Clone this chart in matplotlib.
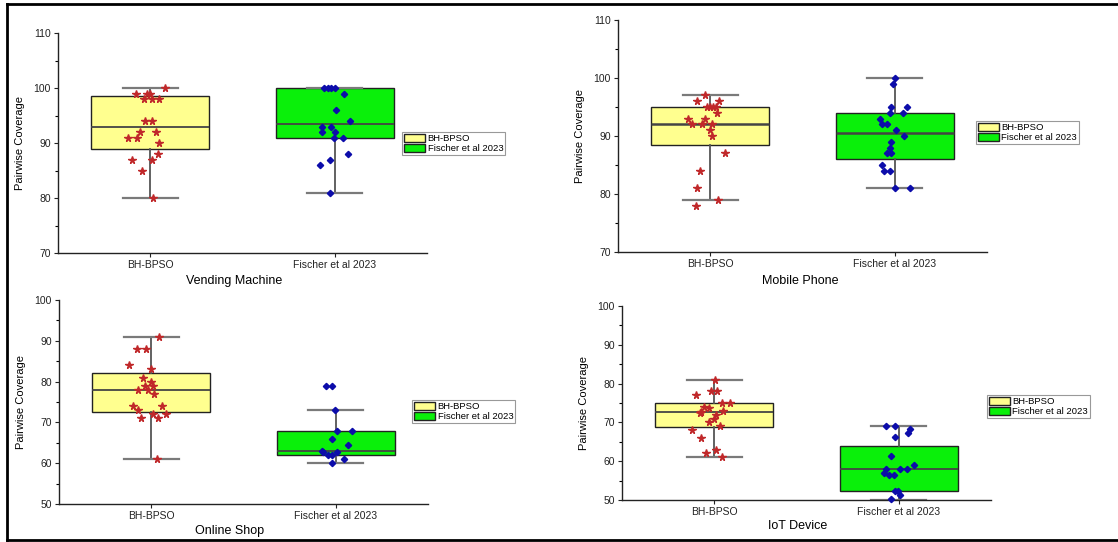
import matplotlib
matplotlib.use('Agg')
from matplotlib import pyplot as plt
from matplotlib.patches import Patch
from matplotlib.lines import Line2D
from matplotlib.ticker import MultipleLocator

plt.rcParams['font.family'] = ['Liberation Sans', 'DejaVu Sans']

groups = ['BH-BPSO', 'Fischer et al 2023']
titles = ['Vending Machine', 'Mobile Phone', 'Online Shop', 'IoT Device']

# pairwise coverage per run
vm_bh = [100, 99, 99, 99, 98, 98, 98, 94, 94, 92, 92, 91, 91, 90, 88, 87, 87, 85, 80]
vm_fi = [100, 100, 100, 100, 99, 96, 94, 93, 93, 92, 92, 91, 91, 88, 87, 86, 81]
mp_bh = [97, 96, 96, 95, 95, 95, 95, 94, 93, 93, 92, 92, 92, 91, 90, 87, 84, 81, 79, 78]
mp_fi = [100, 99, 95, 95, 94, 94, 93, 92, 92, 91, 90, 89, 88, 87, 87, 85, 84, 84, 81, 81]
os_bh = [91, 88, 88, 84, 83, 81, 80, 79, 79, 78, 78, 77, 74, 74, 73, 72, 72, 71, 71, 61]
os_fi = [79, 79, 73, 68, 68, 66, 64.4, 63, 62.7, 62.7, 62, 62, 61, 60]
iot_bh = [81, 78, 78, 77, 75, 75, 74, 73.6, 73, 72.8, 72.5, 72, 71, 70, 69, 68, 66, 63, 62, 61]
iot_fi = [69.2, 69.2, 68.2, 67.3, 66.3, 61.3, 59, 58, 58, 58, 57, 56.5, 56.5, 52.3, 52.3, 51.2, 50.2]

# horizontal jitter of the points (category units)
vm_bh_jit = [0.08, -0.076, -0.018, 0.0, -0.033, 0.009, 0.045, -0.027, 0.009, -0.054,
             0.033, -0.118, -0.072, 0.045, 0.042, -0.1, 0.009, -0.045, 0.014]
vm_fi_jit = [-0.06, -0.038, -0.018, 0.004, 0.049, 0.009, 0.085, -0.069, -0.02, -0.069,
             0.004, -0.005, 0.045, 0.071, -0.024, -0.078, -0.024]
mp_bh_jit = [-0.029, -0.072, 0.045, -0.02, -0.002, 0.016, 0.031, 0.036, -0.118, -0.029,
             -0.1, -0.047, 0.009, 0, 0.009, 0.08, -0.054, -0.072, 0.043, -0.078]
mp_fi_jit = [0.002, -0.007, -0.022, 0.069, -0.027, 0.045, -0.082, -0.071, -0.04, 0.005,
             0.051, -0.022, -0.027, -0.04, -0.022, -0.071, -0.058, -0.025, 0, 0.083]
os_bh_jit = [0.043, -0.078, -0.029, -0.118, 0, -0.047, 0, -0.033, 0.007, -0.072,
             -0.02, 0.013, -0.101, 0.058, -0.072, 0.007, 0.08, -0.054, 0.036, 0.031]
os_fi_jit = [-0.053, -0.022, -0.004, 0.005, 0.087, -0.018, 0.069, -0.074, -0.067, 0.009,
             -0.04, -0.022, 0.047, -0.022]
iot_bh_jit = [0.004, -0.02, 0.016, -0.1, 0.04, 0.085, -0.056, -0.027, 0.045, -0.07,
              -0.078, 0.009, -0.002, -0.029, 0.031, -0.118, -0.072, 0.007, -0.047, 0.04]
iot_fi_jit = [-0.067, -0.022, 0.063, 0.05, -0.018, -0.04, 0.085, 0.005, 0.045, -0.069,
              -0.082, -0.054, -0.027, -0.018, -0.005, 0.005, -0.042]

# box stats as drawn: q1, median, q3, whisker low, whisker high
vm_stats = [(89, 93, 98.5, 80, 100), (91, 93.5, 100, 81, 100)]
mp_stats = [(88.5, 92, 95, 79, 97), (86, 90.5, 94, 81, 100)]
os_stats = [(72.5, 78, 82, 61, 91), (62, 63, 68, 60, 73)]
iot_stats = [(68.7, 72.6, 75, 61, 81), (52.3, 58, 64, 50, 69.2)]

ylims = [(70, 110), (70, 110), (50, 100), (50, 100)]

yellow = '#ffff8f'
green = '#0af00a'
star_c = '#c0282a'
dia_c = '#0c0caa'

W, H = 1118, 542
fig = plt.figure(figsize=(W / 100, H / 100), dpi=100)

# axes rectangles in pixels: left, top, right, bottom
rects = [(58, 33, 427, 253), (618, 20, 987, 252), (59, 300, 428, 504), (622, 306, 991, 500)]
leg_pos = [(402, 132), (976, 121), (412, 400), (987, 395)]
xlab_x = [234, 800, 230, 798]

panels = [
    (vm_bh, vm_bh_jit, vm_fi, vm_fi_jit, vm_stats),
    (mp_bh, mp_bh_jit, mp_fi, mp_fi_jit, mp_stats),
    (os_bh, os_bh_jit, os_fi, os_fi_jit, os_stats),
    (iot_bh, iot_bh_jit, iot_fi, iot_fi_jit, iot_stats),
]

for i, (bh, bhj, fi, fij, stats) in enumerate(panels):
    l, t, r, b = rects[i]
    ax = fig.add_axes([l / W, 1 - b / H, (r - l) / W, (b - t) / H])
    bx = []
    for q1, med, q3, lo, hi in stats:
        bx.append({'q1': q1, 'med': med, 'q3': q3, 'whislo': lo, 'whishi': hi, 'fliers': []})
    res = ax.bxp(bx, positions=[1, 2], widths=0.64, capwidths=0.3, patch_artist=True,
                 showfliers=False,
                 boxprops=dict(edgecolor='#222222', linewidth=1.0),
                 medianprops=dict(color='#444444', linewidth=1.3 if i != 1 else 1.8),
                 whiskerprops=dict(color='#555555', linewidth=1.3),
                 capprops=dict(color='#7a7a7a', linewidth=1.6))
    for patch, c in zip(res['boxes'], [yellow, green]):
        patch.set_facecolor(c)

    ax.plot([1 + j for j in bhj], bh, linestyle='none', marker='*', markersize=5.5,
            color=star_c, clip_on=False, zorder=5)
    ax.plot([2 + j for j in fij], fi, linestyle='none', marker='D', markersize=3.2,
            color=dia_c, clip_on=False, zorder=5)

    ax.set_xlim(0.5, 2.5)
    ax.set_ylim(*ylims[i])
    ax.yaxis.set_major_locator(MultipleLocator(10))
    ax.yaxis.set_minor_locator(MultipleLocator(5))
    ax.set_xticks([1, 2])
    ax.set_xticklabels(groups)
    ax.tick_params(axis='both', labelsize=7.5, length=3, width=0.8, colors='#222222', pad=2)
    ax.tick_params(axis='y', which='minor', length=2, width=0.8)
    for s in ['top', 'right']:
        ax.spines[s].set_visible(False)
    for s in ['left', 'bottom']:
        ax.spines[s].set_linewidth(1.0)
        ax.spines[s].set_color('#222222')
    ax.set_xlabel(titles[i], fontsize=9, labelpad=2)
    ax.xaxis.set_label_coords((xlab_x[i] - l) / (r - l), -0.1 if i < 2 else -0.105)
    ax.xaxis.label.set_verticalalignment('top')
    ax.set_ylabel('Pairwise Coverage', fontsize=8, labelpad=6)

    handles = [Patch(facecolor=yellow, edgecolor='#222222', linewidth=1.0),
               Patch(facecolor=green, edgecolor='#222222', linewidth=1.0)]
    lx, ly = leg_pos[i]
    leg = fig.legend(handles, groups, loc='upper left', bbox_to_anchor=(lx / W, 1 - ly / H),
                     fontsize=6.8, frameon=True, fancybox=False, framealpha=1,
                     edgecolor='#999999', borderpad=0.2, labelspacing=0.05,
                     handlelength=2.2, handleheight=1.0, handletextpad=0.3, borderaxespad=0)
    leg.get_frame().set_linewidth(0.8)

# black frame around the figure (right side is cut off in the original)
fig.add_artist(Line2D([7 / W, 1], [1 - 4 / H, 1 - 4 / H], color='black', linewidth=2))
fig.add_artist(Line2D([7 / W, 1], [2 / H, 2 / H], color='black', linewidth=2))
fig.add_artist(Line2D([7 / W, 7 / W], [2 / H, 1 - 4 / H], color='black', linewidth=2))

plt.savefig('out.png', dpi=100)
